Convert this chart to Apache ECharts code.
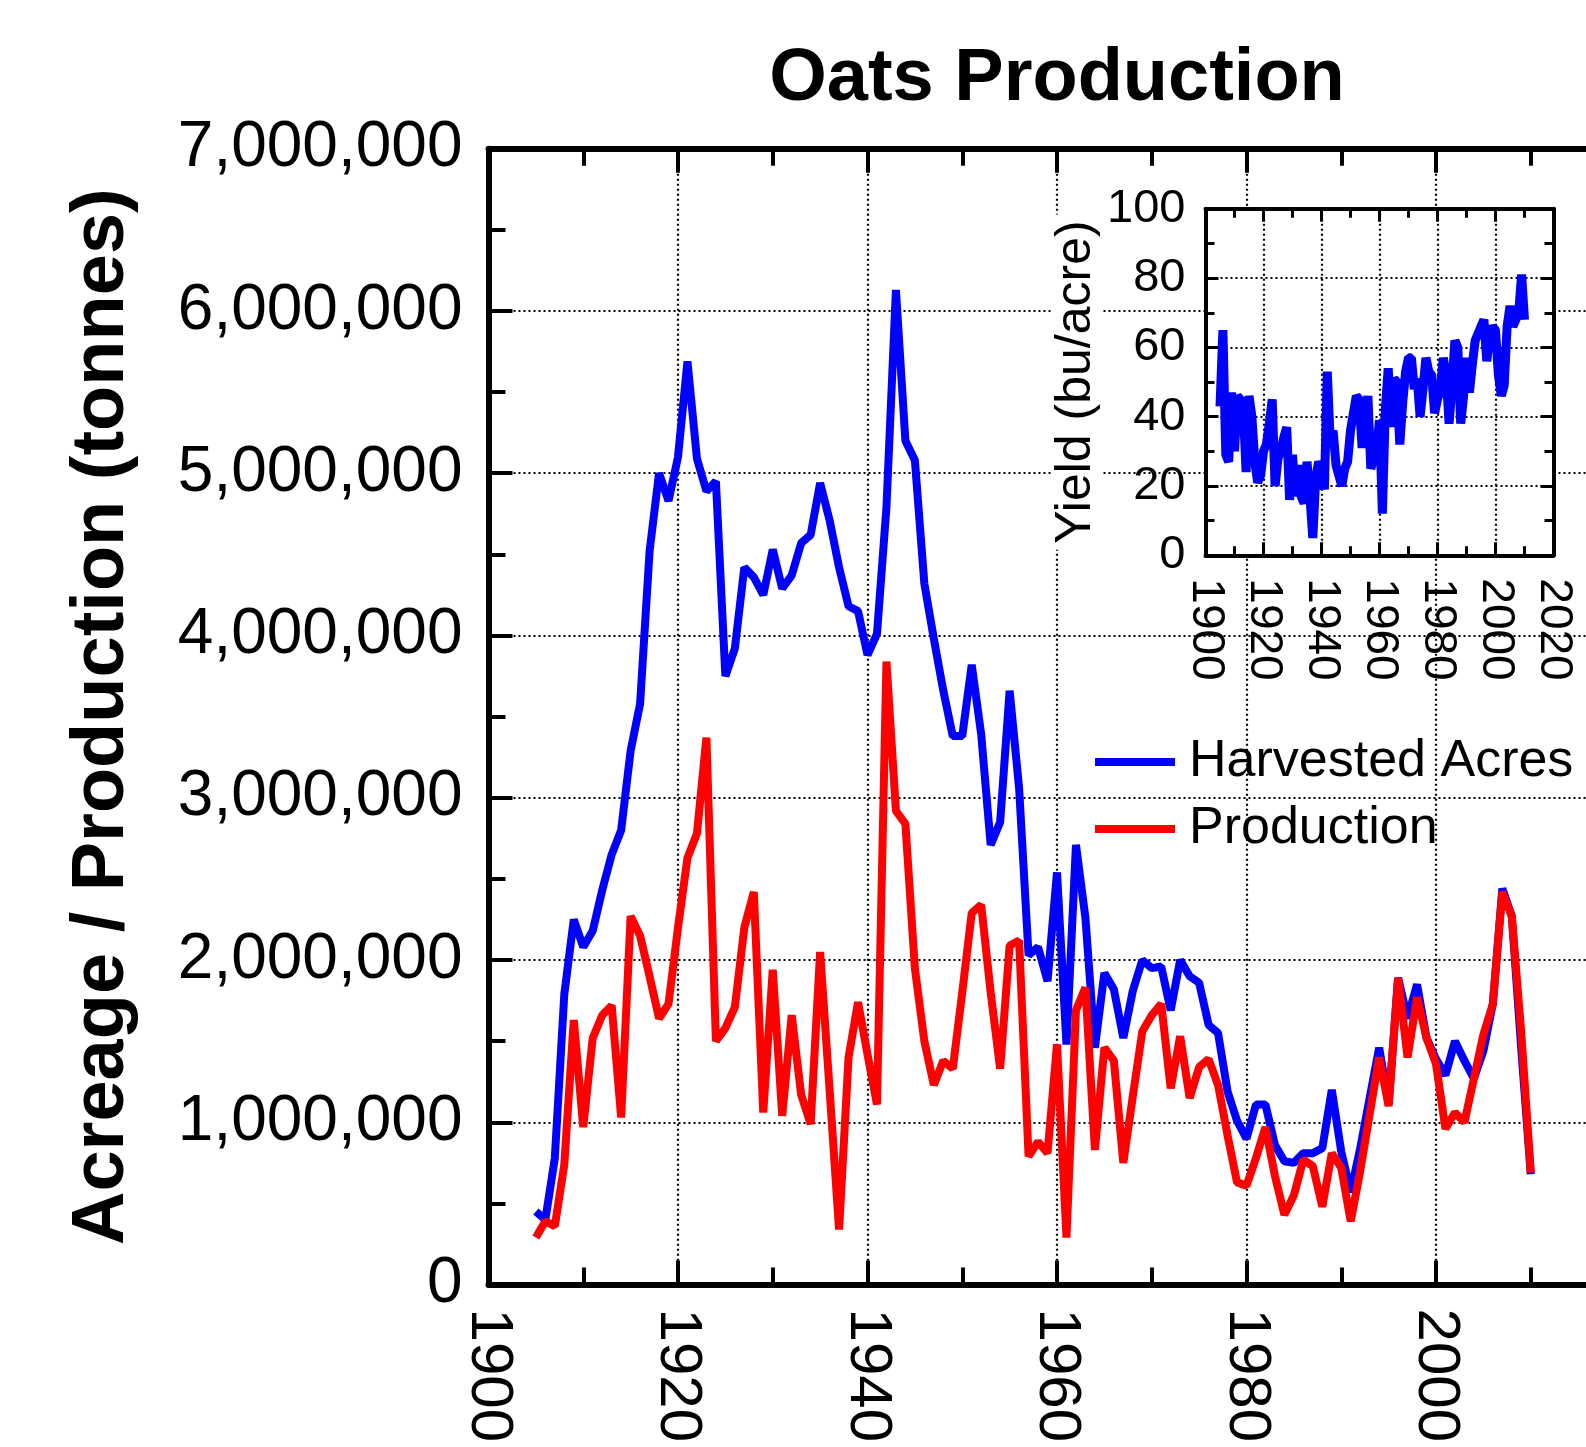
<!DOCTYPE html>
<html><head><meta charset="utf-8">
<script src="https://cdn.jsdelivr.net/npm/echarts@6/dist/echarts.min.js"></script>
<style>html,body{margin:0;padding:0;background:#fff}#c{width:1586px;height:1447px}</style>
</head><body><div id="c"></div>
<script>
const years = [1905,1906,1907,1908,1909,1910,1911,1912,1913,1914,
1915,1916,1917,1918,1919,1920,1921,1922,1923,1924,
1925,1926,1927,1928,1929,1930,1931,1932,1933,1934,
1935,1936,1937,1938,1939,1940,1941,1942,1943,1944,
1945,1946,1947,1948,1949,1950,1951,1952,1953,1954,
1955,1956,1957,1958,1959,1960,1961,1962,1963,1964,
1965,1966,1967,1968,1969,1970,1971,1972,1973,1974,
1975,1976,1977,1978,1979,1980,1981,1982,1983,1984,
1985,1986,1987,1988,1989,1990,1991,1992,1993,1994,
1995,1996,1997,1998,1999,2000,2001,2002,2003,2004,
2005,2006,2007,2008,2009,2010];

// millions
const harvestedAcres = [0.45,0.40,0.78,1.79,2.25,2.08,2.18,2.43,2.65,2.80,
3.29,3.58,4.52,5.00,4.83,5.10,5.69,5.09,4.89,4.95,
3.75,3.92,4.42,4.36,4.25,4.53,4.29,4.37,4.57,4.62,
4.94,4.71,4.42,4.18,4.15,3.88,4.01,4.79,6.13,5.20,
5.08,4.32,3.98,3.66,3.38,3.38,3.82,3.39,2.71,2.85,
3.66,3.06,2.03,2.08,1.87,2.54,1.48,2.71,2.26,1.46,
1.92,1.82,1.52,1.81,2.00,1.95,1.96,1.69,2.00,1.90,
1.86,1.60,1.55,1.19,1.01,0.90,1.11,1.11,0.86,0.76,
0.75,0.81,0.81,0.84,1.20,0.82,0.57,0.84,1.15,1.46,
1.11,1.89,1.64,1.85,1.52,1.39,1.29,1.50,1.38,1.27,
1.44,1.73,2.44,2.27,1.45,0.68];

// millions of tonnes
const production = [0.29,0.39,0.36,0.74,1.63,0.97,1.52,1.66,1.72,1.03,
2.27,2.15,1.90,1.64,1.73,2.20,2.63,2.78,3.37,1.50,
1.58,1.71,2.20,2.42,1.06,1.94,1.04,1.66,1.17,0.99,
2.05,1.20,0.34,1.40,1.74,1.42,1.11,3.84,2.92,2.84,
1.95,1.50,1.23,1.38,1.33,1.80,2.29,2.34,1.80,1.33,
2.09,2.12,0.79,0.88,0.81,1.48,0.29,1.69,1.83,0.83,
1.46,1.38,0.75,1.16,1.56,1.66,1.73,1.21,1.53,1.15,
1.34,1.39,1.23,0.92,0.63,0.61,0.78,0.97,0.67,0.43,
0.55,0.77,0.73,0.48,0.81,0.72,0.39,0.70,1.05,1.40,
1.10,1.89,1.40,1.77,1.52,1.36,0.96,1.06,1.00,1.27,
1.54,1.73,2.42,2.27,1.55,0.69];

// bu/acre
const yieldBuAcre = [43,65,29,27,47,30,46,45,43,24,
46,40,27,21,23,30,32,38,45,20,
28,30,34,37,16,29,17,26,17,15,
27,17,5,22,27,25,19,53,33,36,
26,23,20,25,27,36,41,46,45,31,
39,46,25,28,30,39,12,42,54,37,
51,50,32,44,53,57,57,48,51,40,
48,57,53,52,41,45,48,57,52,38,
49,62,60,38,46,57,47,55,62,64,
66,68,56,64,66,65,52,46,49,66,
72,66,68,70,81,68];

const seriesNames = ['Harvested Acres', 'Production'];
const FONT = 'Liberation Sans';

const pairs = vals => years.map((y, i) => [y, vals[i]]);
const dotted = {type: [2, 3], color: '#000', width: 2.2};
const yearFmt = v => String(v);

const chart = echarts.init(document.getElementById('c'), null, {renderer: 'canvas'});
chart.setOption({
  animation: false,
  backgroundColor: '#fff',
  title: {
    text: 'Oats Production', left: 1057, top: 43, textAlign: 'center', padding: 0,
    textStyle: {fontSize: 74, fontWeight: 'bold', color: '#000', fontFamily: FONT, lineHeight: 74}
  },
  legend: {
    orient: 'vertical', left: 1095, top: 736, padding: 0,
    itemWidth: 80, itemHeight: 8, itemGap: 15, icon: 'rect',
    data: seriesNames,
    textStyle: {fontSize: 52, color: '#000', fontFamily: FONT, lineHeight: 52, padding: [0, 0, 0, 9]}
  },
  grid: [
    {left: 488.5, top: 148.7, width: 1137, height: 1135.9, outerBoundsMode: 'none'},
    {left: 1205.5, top: 208.8, width: 348, height: 346.5, show: true, backgroundColor: '#fff', borderWidth: 0, z: 3, outerBoundsMode: 'none'}
  ],
  xAxis: [
    {gridIndex: 0, type: 'value', position: 'bottom', min: 1900, max: 2020, interval: 20,
     axisLine: {onZero: false, lineStyle: {color: '#000', width: 6}},
     axisTick: {inside: true, length: 24, lineStyle: {color: '#000', width: 4}},
     minorTick: {show: true, splitNumber: 2, length: 17, lineStyle: {color: '#000', width: 4}},
     axisLabel: {rotate: -90, fontSize: 60, color: '#000', fontFamily: FONT, margin: 24, formatter: yearFmt},
     splitLine: {show: true, lineStyle: dotted}},
    {gridIndex: 0, type: 'value', position: 'top', min: 1900, max: 2020, interval: 20,
     axisLine: {onZero: false, lineStyle: {color: '#000', width: 6}},
     axisTick: {inside: true, length: 24, lineStyle: {color: '#000', width: 4}},
     minorTick: {show: true, splitNumber: 2, length: 17, lineStyle: {color: '#000', width: 4}},
     axisLabel: {show: false}, splitLine: {show: false}},
    {gridIndex: 1, type: 'value', position: 'bottom', min: 1900, max: 2020, interval: 20, z: 4,
     axisLine: {onZero: false, lineStyle: {color: '#000', width: 4}},
     axisTick: {inside: true, length: 13, lineStyle: {color: '#000', width: 3}},
     minorTick: {show: true, splitNumber: 2, length: 9, lineStyle: {color: '#000', width: 3}},
     axisLabel: {rotate: -90, fontSize: 46, color: '#000', fontFamily: FONT, margin: 23, formatter: yearFmt},
     splitLine: {show: true, lineStyle: dotted}},
    {gridIndex: 1, type: 'value', position: 'top', min: 1900, max: 2020, interval: 20, z: 4,
     axisLine: {onZero: false, lineStyle: {color: '#000', width: 4}},
     axisTick: {inside: true, length: 13, lineStyle: {color: '#000', width: 3}},
     minorTick: {show: true, splitNumber: 2, length: 9, lineStyle: {color: '#000', width: 3}},
     axisLabel: {show: false}, splitLine: {show: false}}
  ],
  yAxis: [
    {gridIndex: 0, type: 'value', position: 'left', min: 0, max: 7, interval: 1,
     axisLine: {onZero: false, lineStyle: {color: '#000', width: 6}},
     axisTick: {inside: true, length: 24, lineStyle: {color: '#000', width: 4}},
     minorTick: {show: true, splitNumber: 2, length: 17, lineStyle: {color: '#000', width: 4}},
     axisLabel: {fontSize: 64, color: '#000', fontFamily: FONT, margin: 26,
       formatter: v => Math.round(v * 1000000).toLocaleString('en-US')},
     splitLine: {show: true, lineStyle: dotted},
     name: 'Acreage / Production (tonnes)', nameLocation: 'middle', nameGap: 386,
     nameTextStyle: {fontSize: 74, fontWeight: 'bold', color: '#000', fontFamily: FONT, verticalAlign: 'middle', lineHeight: 74}},
    {gridIndex: 1, type: 'value', position: 'left', min: 0, max: 100, interval: 20, z: 4,
     axisLine: {onZero: false, lineStyle: {color: '#000', width: 4}},
     axisTick: {inside: true, length: 13, lineStyle: {color: '#000', width: 3}},
     minorTick: {show: true, splitNumber: 2, length: 9, lineStyle: {color: '#000', width: 3}},
     axisLabel: {fontSize: 47, color: '#000', fontFamily: FONT, margin: 20},
     splitLine: {show: true, lineStyle: dotted},
     name: 'Yield (bu/acre)', nameLocation: 'middle', nameGap: 129,
     nameTextStyle: {fontSize: 50, color: '#000', fontFamily: FONT, verticalAlign: 'middle', lineHeight: 50,
       backgroundColor: '#fff', padding: [0, 6]}},
    {gridIndex: 1, type: 'value', position: 'right', min: 0, max: 100, interval: 20, z: 4,
     axisLine: {onZero: false, lineStyle: {color: '#000', width: 4}},
     axisTick: {inside: true, length: 13, lineStyle: {color: '#000', width: 3}},
     minorTick: {show: true, splitNumber: 2, length: 9, lineStyle: {color: '#000', width: 3}},
     axisLabel: {show: false}, splitLine: {show: false}}
  ],
  series: [
    {name: seriesNames[0], type: 'line', xAxisIndex: 0, yAxisIndex: 0, data: pairs(harvestedAcres),
     symbol: 'none', color: '#0000ff', lineStyle: {color: '#0000ff', width: 8}, z: 2},
    {name: seriesNames[1], type: 'line', xAxisIndex: 0, yAxisIndex: 0, data: pairs(production),
     symbol: 'none', color: '#ff0000', lineStyle: {color: '#ff0000', width: 8}, z: 2},
    {name: 'Yield', type: 'line', xAxisIndex: 2, yAxisIndex: 1, data: pairs(yieldBuAcre),
     symbol: 'none', color: '#0000ff', lineStyle: {color: '#0000ff', width: 9}, z: 5}
  ]
});
</script>
</body></html>
